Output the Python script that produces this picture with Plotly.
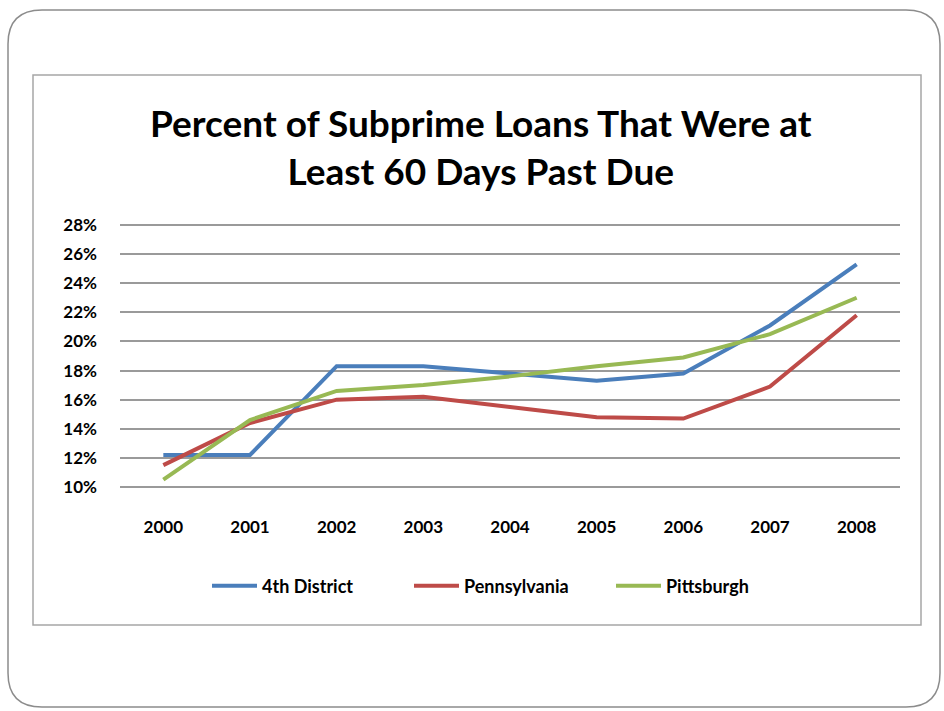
import plotly.graph_objects as go

years = ["2000", "2001", "2002", "2003", "2004", "2005", "2006", "2007", "2008"]
district4 = [0.122, 0.122, 0.183, 0.183, 0.178, 0.173, 0.178, 0.211, 0.253]
pennsylvania = [0.115, 0.144, 0.160, 0.162, 0.155, 0.148, 0.147, 0.169, 0.218]
pittsburgh = [0.105, 0.146, 0.166, 0.170, 0.176, 0.183, 0.189, 0.205, 0.230]
series_names = ["4th District", "Pennsylvania", "Pittsburgh"]
colors = ["#4A7EBB", "#BE4B48", "#98B954"]
y_ticks = [0.10, 0.12, 0.14, 0.16, 0.18, 0.20, 0.22, 0.24, 0.26, 0.28]
title_text = "Percent of Subprime Loans That Were at<br>Least 60 Days Past Due"

W, H = 944, 711
PL, PR, PT, PB = 120, 900, 222, 490  # plot area in pixels (3px pad around 28%/10%)
Y_LO, Y_HI = 0.10, 0.28
TOP_GRID, BOT_GRID = 225, 487
per_px = (Y_HI - Y_LO) / (BOT_GRID - TOP_GRID)
y_range = [Y_LO - (PB - BOT_GRID) * per_px, Y_HI + (TOP_GRID - PT) * per_px]


def px(x):
    return (x - PL) / (PR - PL)


def py(y):
    return (PB - y) / (PB - PT)


FONT = "Lato"

fig = go.Figure()
for name, vals, c in zip(series_names, [district4, pennsylvania, pittsburgh], colors):
    fig.add_trace(go.Scatter(x=years, y=vals, mode="lines", name=name,
                             line=dict(color=c, width=4)))

# outer rounded frame
x0, y0, x1, y1, r = 8, 10, 940, 707, 34
path = (f"M {px(x0 + r)} {py(y0)} L {px(x1 - r)} {py(y0)} "
        f"Q {px(x1)} {py(y0)} {px(x1)} {py(y0 + r)} "
        f"L {px(x1)} {py(y1 - r)} Q {px(x1)} {py(y1)} {px(x1 - r)} {py(y1)} "
        f"L {px(x0 + r)} {py(y1)} Q {px(x0)} {py(y1)} {px(x0)} {py(y1 - r)} "
        f"L {px(x0)} {py(y0 + r)} Q {px(x0)} {py(y0)} {px(x0 + r)} {py(y0)} Z")
fig.add_shape(type="path", path=path, xref="paper", yref="paper",
              line=dict(color="#8c8c8c", width=1.5), layer="below")
# inner chart border
fig.add_shape(type="rect", xref="paper", yref="paper",
              x0=px(33), x1=px(921), y0=py(75), y1=py(625),
              line=dict(color="#a6a6a6", width=1.5), layer="below")

fig.add_annotation(text="<b>" + title_text + "</b>", xref="paper", yref="paper",
                   x=px(481), y=py(146), xanchor="center", yanchor="middle",
                   showarrow=False, align="center",
                   font=dict(family=FONT, size=37, color="#000000"))

fig.update_layout(
    width=W, height=H,
    margin=dict(l=PL, r=W - PR, t=PT, b=H - PB, pad=0),
    paper_bgcolor="white", plot_bgcolor="white",
    showlegend=True,
    legend=dict(orientation="h", x=px(510), y=py(586), xanchor="center", yanchor="middle",
                font=dict(family=FONT, size=18, color="#000000", weight="bold"),
                itemwidth=45, entrywidth=142, tracegroupgap=0),
    xaxis=dict(type="category", range=[-0.5, 8.5], showgrid=False, zeroline=False,
               showline=False, ticks="", ticklabelstandoff=25,
               tickfont=dict(family=FONT, size=17, color="#000000", weight="bold")),
    yaxis=dict(range=y_range, tickvals=y_ticks, tickformat=".0%",
               showgrid=True, gridcolor="#9a9a9a", gridwidth=2, zeroline=False,
               showline=False, ticks="", ticklabelstandoff=22,
               tickfont=dict(family=FONT, size=17, color="#000000", weight="bold")),
)

fig.write_html("out.html")
